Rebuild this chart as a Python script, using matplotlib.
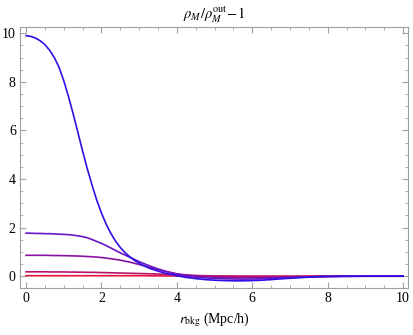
import matplotlib
matplotlib.use("Agg")
import matplotlib.pyplot as plt
from matplotlib.ticker import MultipleLocator

plt.rcParams['font.family'] = ['Liberation Serif', 'DejaVu Serif']
plt.rcParams['mathtext.fontset'] = 'stix'

# radius grid (Mpc/h): fine near the centre, coarser outside
r = [0.0, 0.125, 0.25, 0.375, 0.5, 0.625, 0.75, 0.875,
     1.0, 1.125, 1.25, 1.375, 1.5, 1.625, 1.75, 1.875,
     2.0, 2.125, 2.25, 2.375, 2.5, 2.625, 2.75, 2.875,
     3.0, 3.125, 3.25, 3.375, 3.5, 3.625, 3.75, 3.875, 4.0,
     4.25, 4.5, 4.75, 5.0, 5.25, 5.5, 5.75, 6.0,
     6.25, 6.5, 6.75, 7.0, 7.25, 7.5, 7.75, 8.0,
     8.5, 9.0, 9.5, 10.0]

# density contrast curves
delta_1 = [9.90, 9.87, 9.80, 9.69, 9.53, 9.30, 9.00, 8.60,
           8.05, 7.40, 6.68, 5.92, 5.15, 4.42, 3.75, 3.13,
           2.60, 2.14, 1.76, 1.44, 1.18, 0.97, 0.80, 0.65,
           0.53, 0.43, 0.34, 0.27, 0.21, 0.15, 0.10, 0.06, 0.02,
           -0.05, -0.10, -0.14, -0.165, -0.18, -0.19, -0.19, -0.18,
           -0.165, -0.14, -0.11, -0.085, -0.06, -0.04, -0.025, -0.015,
           -0.005, 0.0, 0.0, 0.0]
delta_2 = [1.77, 1.77, 1.76, 1.76, 1.75, 1.75, 1.74, 1.73,
           1.72, 1.71, 1.69, 1.66, 1.63, 1.58, 1.51, 1.43,
           1.35, 1.26, 1.16, 1.06, 0.96, 0.87, 0.78, 0.69,
           0.60, 0.52, 0.44, 0.37, 0.30, 0.24, 0.18, 0.13, 0.08,
           0.01, -0.04, -0.07, -0.09, -0.105, -0.115, -0.12, -0.115,
           -0.105, -0.09, -0.075, -0.06, -0.045, -0.03, -0.02, -0.01,
           -0.005, 0.0, 0.0, 0.0]
delta_3 = [0.86, 0.86, 0.86, 0.86, 0.86, 0.855, 0.85, 0.85,
           0.845, 0.84, 0.835, 0.83, 0.82, 0.81, 0.80, 0.785,
           0.77, 0.745, 0.72, 0.69, 0.66, 0.62, 0.58, 0.53,
           0.48, 0.43, 0.37, 0.32, 0.27, 0.22, 0.18, 0.14, 0.10,
           0.05, 0.01, -0.02, -0.04, -0.05, -0.06, -0.06, -0.06,
           -0.055, -0.05, -0.04, -0.03, -0.025, -0.02, -0.01, -0.01,
           0.0, 0.0, 0.0, 0.0]
delta_4 = [0.18, 0.18, 0.18, 0.18, 0.18, 0.175, 0.175, 0.175,
           0.175, 0.17, 0.17, 0.165, 0.165, 0.16, 0.16, 0.155,
           0.15, 0.145, 0.14, 0.135, 0.13, 0.125, 0.12, 0.115,
           0.11, 0.105, 0.10, 0.095, 0.09, 0.08, 0.075, 0.07, 0.06,
           0.045, 0.03, 0.02, 0.01, 0.005, 0.0, -0.005, -0.01,
           -0.01, -0.01, -0.01, -0.01, -0.005, -0.005, 0.0, 0.0,
           0.0, 0.0, 0.0, 0.0]
delta_5 = [0.02, 0.02, 0.02, 0.02, 0.02, 0.02, 0.02, 0.02,
           0.02, 0.02, 0.02, 0.02, 0.02, 0.02, 0.02, 0.02,
           0.02, 0.02, 0.02, 0.02, 0.02, 0.02, 0.02, 0.02,
           0.02, 0.02, 0.015, 0.015, 0.015, 0.01, 0.01, 0.01, 0.01,
           0.005, 0.005, 0.005, 0.0, 0.0, 0.0, 0.0, 0.0,
           0.0, 0.0, 0.0, 0.0, 0.0, 0.0, 0.0, 0.0,
           0.0, 0.0, 0.0, 0.0]

curves = [delta_5, delta_4, delta_3, delta_2, delta_1]
colores = ['#e8103c', '#b8126c', '#8a12a0', '#6a14c4', '#2e10e6']

fig = plt.figure(figsize=(4.13, 3.35), dpi=100)
ax = fig.add_axes([0.0484, 0.140, 0.9396, 0.779])

for d, c in zip(curves, colores):
    ax.plot(r, d, color=c, linewidth=1.2)

ax.set_xlim(-0.16, 10.13)
ax.set_ylim(-0.49, 10.25)

# marco gris estilo Mathematica, ticks hacia dentro en los cuatro lados
for s in ax.spines.values():
    s.set_color('#a0a0a0')
    s.set_linewidth(0.8)
ax.xaxis.set_major_locator(MultipleLocator(2))
ax.xaxis.set_minor_locator(MultipleLocator(0.5))
ax.yaxis.set_major_locator(MultipleLocator(2))
ax.yaxis.set_minor_locator(MultipleLocator(0.5))
ax.tick_params(which='both', direction='in', top=True, right=True,
               color='#a0a0a0', labelsize=10, pad=3)
ax.tick_params(which='major', length=4, width=0.8)
ax.tick_params(which='minor', length=2, width=0.6)

ax.set_title(r'$\rho_M/\rho_M^{\rm out}\!-\!1$', fontsize=10.5, pad=6)
ax.set_xlabel(r'$r_{\rm bkg}$ (Mpc/h)', fontsize=10, labelpad=4)

fig.savefig('out.png', dpi=100)
